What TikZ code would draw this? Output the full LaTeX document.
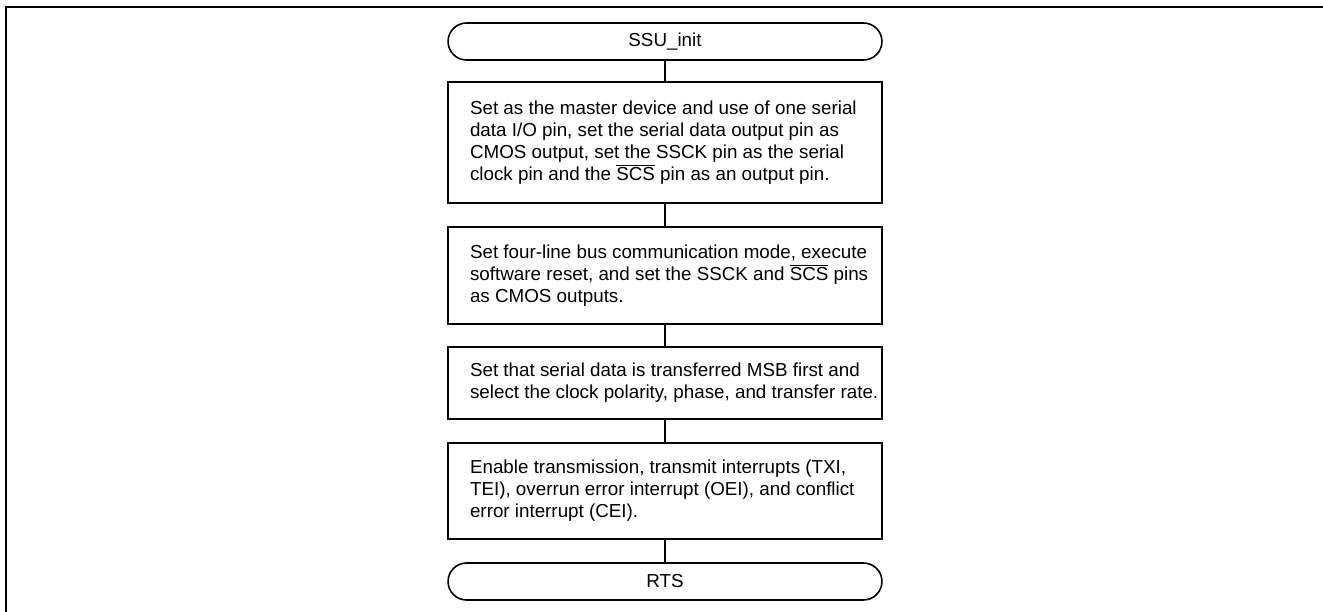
\documentclass[tikz,border=0pt]{standalone}
\usepackage{fontspec}
\setmainfont{Liberation Sans}
\newcommand{\ovl}[1]{{\setbox0\hbox{#1}\rlap{\rule[\dimexpr\ht0+0.7pt\relax]{\wd0}{0.5pt}}\box0}}

\begin{document}
\begin{tikzpicture}[x=0.02cm, y=-0.02cm,
    term/.style={draw, line width=0.9pt, rounded corners=0.37cm, minimum width=8.68cm, minimum height=0.74cm, font=\fontsize{10.7}{12.5}\selectfont},
    proc/.style={draw, line width=1.1pt, text width=8.3cm, inner xsep=0.19cm, align=flush left, font=\fontsize{10.7}{12.5}\selectfont, execute at begin node={\leftskip=0.25cm}},
    link/.style={line width=0.6pt}]
    \useasboundingbox (0,0) rectangle (1323,612);

    % Frame
    \draw[line width=1.2pt] (6,612) -- (6,7) -- (1323,7);

    % Nodes
    \node[term] (init) at (665,41.5) {SSU\_init};
    \node[proc, minimum height=2.42cm] (master) at (665,142.5) {Set as the master device and use of one serial\\
        data I/O pin, set the serial data output pin as\\
        CMOS output, set the SSCK pin as the serial\\
        clock pin and the \ovl{SCS} pin as an output pin.};
    \node[proc, minimum height=1.94cm] (mode) at (665,275.5) {Set four-line bus communication mode, execute\\
        software reset, and set the SSCK and \ovl{SCS} pins\\
        as CMOS outputs.};
    \node[proc, minimum height=1.44cm] (clock) at (665,383) {Set that serial data is transferred MSB first and\\
        \mbox{select the clock polarity, phase, and transfer rate.}};
    \node[proc, minimum height=1.92cm] (irq) at (665,491) {Enable transmission, transmit interrupts (TXI,\\
        TEI), overrun error interrupt (OEI), and conflict\\
        error interrupt (CEI).};
    \node[term] (rts) at (665,581.5) {RTS};

    % Connectors
    \draw[link] (init) -- (master);
    \draw[link] (master) -- (mode);
    \draw[link] (mode) -- (clock);
    \draw[link] (clock) -- (irq);
    \draw[link] (irq) -- (rts);
\end{tikzpicture}
\end{document}
